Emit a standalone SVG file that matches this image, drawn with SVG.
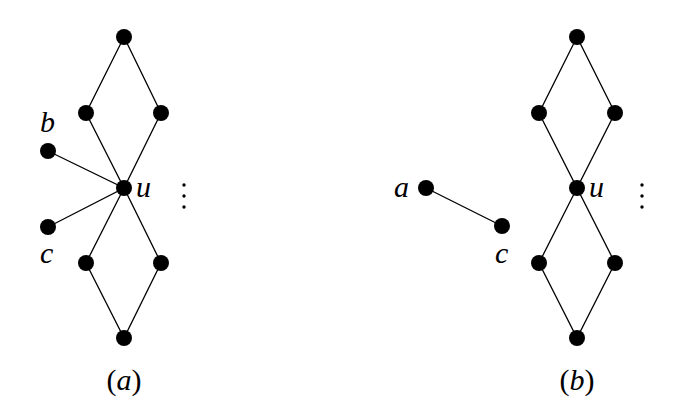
<svg xmlns="http://www.w3.org/2000/svg" width="677" height="415" viewBox="0 0 677 415">
<style>
.e{stroke:#000;stroke-width:1.3;fill:none}
.n{fill:#000}
text{font-family:'Liberation Serif','Times New Roman','DejaVu Serif',serif;font-size:30px;fill:#000}
.t{font-style:italic}
.r{font-style:normal}
</style>
<rect width="677" height="415" fill="#fff"/>
<g id="connectors" class="e">
<path d="M124 37L86 113L124 188L161 113Z"/>
<path d="M124 188L86 263L124 338L161 263Z"/>
<path d="M48 151L124 188L48 227"/>
<path d="M577 37L539 113L577 188L615 113Z"/>
<path d="M577 188L539 263L577 338L615 263Z"/>
<path d="M426 188L502 226"/>
</g>
<g id="a-top"><circle class="n" cx="124" cy="37" r="8"/></g>
<g id="a-ul"><circle class="n" cx="86" cy="113" r="8"/></g>
<g id="a-ur"><circle class="n" cx="161" cy="113" r="8"/></g>
<g id="a-u"><circle class="n" cx="124" cy="188" r="8"/><text class="t" x="136" y="197">u</text></g>
<g id="a-b"><circle class="n" cx="48" cy="151" r="8"/><text class="t" x="40" y="132">b</text></g>
<g id="a-c"><circle class="n" cx="48" cy="227" r="8"/><text class="t" x="40" y="263">c</text></g>
<g id="a-ll"><circle class="n" cx="86" cy="263" r="8"/></g>
<g id="a-lr"><circle class="n" cx="161" cy="263" r="8"/></g>
<g id="a-bot"><circle class="n" cx="124" cy="338" r="8"/></g>
<g id="a-dots"><circle class="n" cx="184" cy="185" r="1.7"/><circle class="n" cx="184" cy="196" r="1.7"/><circle class="n" cx="184" cy="207" r="1.7"/></g>
<g id="b-top"><circle class="n" cx="577" cy="37" r="8"/></g>
<g id="b-ul"><circle class="n" cx="539" cy="113" r="8"/></g>
<g id="b-ur"><circle class="n" cx="615" cy="113" r="8"/></g>
<g id="b-u"><circle class="n" cx="577" cy="188" r="8"/><text class="t" x="589" y="197">u</text></g>
<g id="b-a"><circle class="n" cx="426" cy="188" r="8"/><text class="t" x="394" y="197">a</text></g>
<g id="b-c"><circle class="n" cx="502" cy="226" r="8"/><text class="t" x="495" y="263">c</text></g>
<g id="b-ll"><circle class="n" cx="539" cy="263" r="8"/></g>
<g id="b-lr"><circle class="n" cx="615" cy="263" r="8"/></g>
<g id="b-bot"><circle class="n" cx="577" cy="338" r="8"/></g>
<g id="b-dots"><circle class="n" cx="642" cy="185" r="1.7"/><circle class="n" cx="642" cy="196" r="1.7"/><circle class="n" cx="642" cy="207" r="1.7"/></g>
<g id="captions">
<text x="124" y="390" text-anchor="middle"><tspan class="r">(</tspan><tspan class="t">a</tspan><tspan class="r">)</tspan></text>
<text x="577" y="390" text-anchor="middle"><tspan class="r">(</tspan><tspan class="t">b</tspan><tspan class="r">)</tspan></text>
</g>
</svg>
